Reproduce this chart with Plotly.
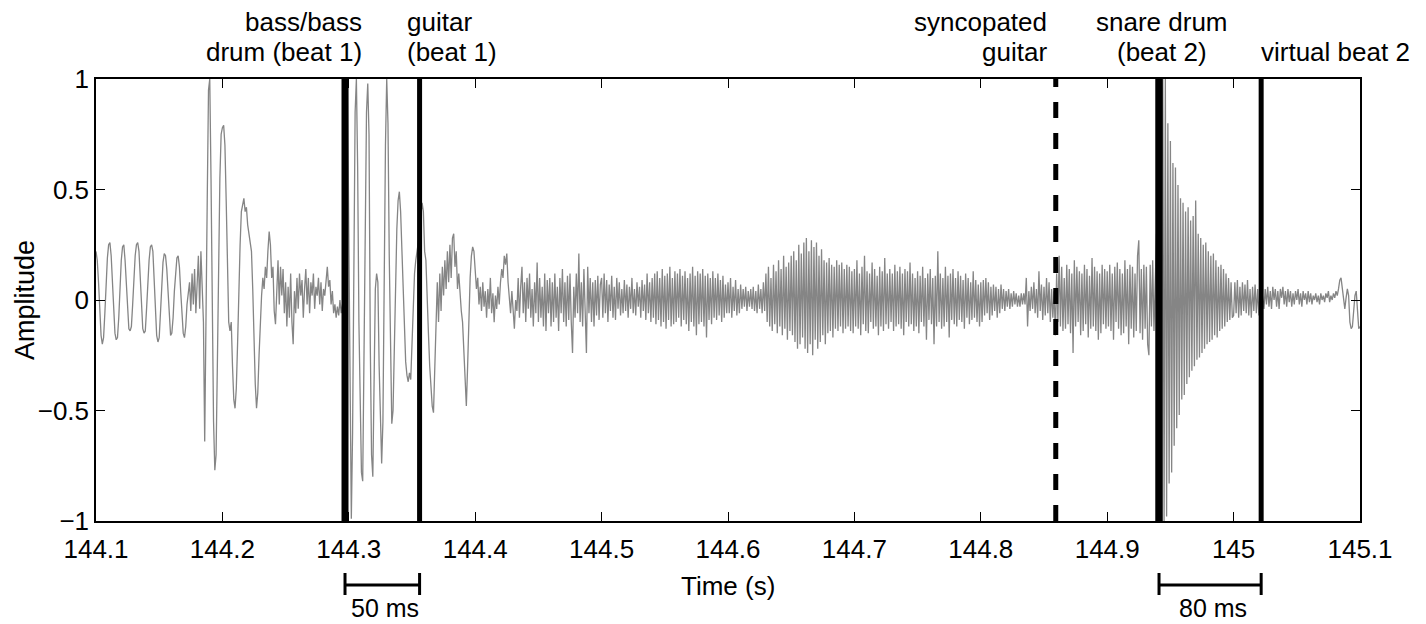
import plotly.graph_objects as go

# ---- waveform amplitude, 1 ms steps, one list per 0.1 s ----
amp_144_1 = [0.22, 0.18, 0.08, -0.05, -0.16, -0.20, -0.17, -0.06, 0.08, 0.19,
             0.25, 0.26, 0.20, 0.08, -0.06, -0.15, -0.18, -0.17, -0.08, 0.06,
             0.18, 0.24, 0.25, 0.18, 0.06, -0.06, -0.13, -0.14, -0.12, -0.02,
             0.10, 0.20, 0.25, 0.26, 0.22, 0.10, -0.04, -0.13, -0.15, -0.14,
             -0.04, 0.08, 0.18, 0.24, 0.25, 0.22, 0.10, -0.05, -0.16, -0.19,
             -0.17, -0.06, 0.08, 0.17, 0.21, 0.20, 0.14, 0.02, -0.10, -0.16,
             -0.15, -0.08, 0.04, 0.14, 0.19, 0.20, 0.15, 0.04, -0.08, -0.15,
             -0.17, -0.12, -0.02, 0.04, 0.08, -0.05, 0.12, -0.02, 0.14, -0.06,
             0.10, 0.20, -0.04, 0.22, 0.06, -0.10, -0.64, -0.20, 0.45, 0.95,
             1.0, 0.55, -0.10, -0.55, -0.77, -0.70, -0.30, 0.15, 0.55, 0.75]
amp_144_2 = [0.78, 0.79, 0.70, 0.45, 0.15, -0.10, -0.14, -0.10, -0.30, -0.45,
             -0.49, -0.40, -0.20, 0.05, 0.25, 0.40, 0.44, 0.46, 0.40, 0.42,
             0.34, 0.30, 0.28, 0.22, 0.05, -0.20, -0.38, -0.49, -0.42, -0.25,
             -0.10, 0.02, 0.10, 0.05, 0.15, 0.10, 0.22, 0.31, 0.25, 0.10,
             0.15, -0.05, -0.11, 0.05, 0.18, -0.02, 0.15, 0.02, 0.14, -0.06,
             0.08, -0.12, 0.06, -0.08, 0.12, -0.10, -0.20, 0.04, -0.06, 0.10,
             -0.04, 0.12, 0.02, 0.09, -0.08, 0.05, 0.14, -0.02, 0.10, -0.06,
             0.08, 0.02, 0.12, -0.04, 0.06, 0.02, 0.10, -0.02, 0.08, -0.05,
             0.05, 0.02, 0.10, 0.15, 0.06, 0.09, -0.02, 0.04, -0.06, -0.02,
             -0.08, -0.03, -0.07, 0.00, -0.06, -0.02, -0.05, 0.30, 0.50, 0.98]
amp_144_3 = [0.30, -0.60, -0.99, -0.60, 0.20, 0.85, 1.0, 0.60, -0.10, -0.55,
             -0.78, -0.82, -0.30, 0.40, 0.85, 0.98, 0.75, -0.20, -0.70, -0.80,
             -0.40, 0.05, 0.12, 0.08, -0.30, -0.60, -0.74, -0.55, 0.10, 0.70,
             1.0, 0.80, 0.20, -0.30, -0.56, -0.50, -0.20, 0.10, 0.32, 0.45,
             0.49, 0.40, 0.22, 0.02, -0.15, -0.28, -0.34, -0.37, -0.33, -0.36,
             -0.20, 0.00, 0.12, 0.18, 0.22, 0.24, 0.30, 0.38, 0.44, 0.40,
             0.22, 0.18, 0.05, -0.15, -0.30, -0.42, -0.48, -0.51, -0.30, -0.05,
             0.08, -0.10, 0.12, -0.05, 0.15, 0.02, 0.18, 0.05, 0.22, 0.08,
             0.25, 0.10, 0.28, 0.30, 0.15, 0.22, 0.05, 0.12, 0.02, -0.05,
             -0.10, -0.25, -0.40, -0.48, -0.30, -0.05, 0.10, 0.20, 0.24, 0.22]
amp_144_4 = [0.15, 0.05, 0.10, -0.02, 0.06, -0.05, 0.08, -0.03, 0.04, -0.08,
             0.05, -0.04, 0.10, -0.06, 0.03, -0.10, 0.02, -0.04, 0.06, -0.02,
             0.08, 0.14, 0.10, 0.20, 0.16, 0.21, 0.08, 0.02, -0.06, 0.04,
             -0.08, -0.13, 0.00, -0.05, 0.10, -0.08, 0.06, 0.15, -0.06, 0.08,
             -0.10, 0.10, -0.04, 0.12, -0.08, 0.05, -0.12, 0.08, -0.06, 0.17,
             -0.10, 0.10, -0.08, 0.06, -0.12, 0.12, -0.14, 0.09, -0.06, 0.10,
             -0.12, 0.08, -0.10, 0.12, -0.08, 0.06, -0.14, 0.10, -0.06, 0.14,
             -0.10, 0.08, -0.12, 0.11, -0.09, 0.12, -0.10, -0.24, 0.06, -0.08,
             0.12, -0.06, 0.21, -0.10, 0.08, -0.12, 0.14, -0.08, -0.24, 0.15,
             -0.06, 0.10, -0.10, 0.08, -0.12, 0.09, -0.07, 0.11, -0.09, 0.07]
amp_144_5 = [0.10, -0.08, 0.12, -0.06, 0.09, -0.10, 0.07, -0.05, 0.11, -0.08,
             0.06, -0.09, 0.10, -0.04, 0.08, -0.07, 0.05, -0.06, 0.09, -0.05,
             0.07, -0.08, 0.06, -0.04, 0.10, -0.06, 0.05, -0.07, 0.08, -0.03,
             0.06, -0.08, 0.09, -0.05, 0.07, -0.09, 0.12, -0.06, 0.08, -0.10,
             0.10, -0.08, 0.12, -0.11, 0.13, -0.09, 0.10, -0.12, 0.14, -0.10,
             0.11, -0.13, 0.12, -0.09, 0.15, -0.12, 0.10, -0.11, 0.13, -0.10,
             0.12, -0.08, 0.14, -0.12, 0.11, -0.09, 0.13, -0.11, 0.10, -0.14,
             0.12, -0.10, 0.15, -0.12, 0.11, -0.16, 0.13, -0.11, 0.12, -0.10,
             0.14, -0.12, 0.11, -0.17, 0.12, -0.09, 0.10, -0.11, 0.13, -0.08,
             0.10, -0.09, 0.12, -0.07, 0.09, -0.10, 0.11, -0.08, 0.07, -0.06]
amp_144_6 = [0.08, -0.06, 0.10, -0.08, 0.06, -0.05, 0.09, -0.07, 0.05, -0.06,
             0.07, -0.04, 0.05, -0.03, 0.06, -0.05, 0.04, -0.03, 0.05, -0.04,
             0.06, -0.05, 0.04, -0.06, 0.07, -0.04, 0.05, -0.06, 0.08, -0.05,
             0.12, -0.10, 0.15, -0.12, 0.10, -0.14, 0.16, -0.11, 0.13, -0.15,
             0.18, -0.12, 0.14, -0.16, 0.20, -0.13, 0.15, -0.18, 0.17, -0.14,
             0.20, -0.16, 0.22, -0.19, 0.18, -0.22, 0.25, -0.20, 0.21, -0.17,
             0.26, -0.22, 0.28, -0.24, 0.22, -0.20, 0.27, -0.25, 0.24, -0.18,
             0.26, -0.22, 0.20, -0.19, 0.23, -0.16, 0.18, -0.20, 0.17, -0.15,
             0.19, -0.14, 0.16, -0.17, 0.15, -0.13, 0.18, -0.14, 0.16, -0.12,
             0.17, -0.15, 0.14, -0.13, 0.16, -0.12, 0.15, -0.14, 0.13, -0.15]
amp_144_7 = [0.14, -0.12, 0.18, -0.13, 0.12, -0.16, 0.15, -0.11, 0.20, -0.14,
             0.13, -0.15, 0.12, -0.10, 0.17, -0.13, 0.14, -0.12, 0.11, -0.16,
             0.15, -0.12, 0.13, -0.14, 0.19, -0.11, 0.12, -0.13, 0.14, -0.10,
             0.12, -0.14, 0.16, -0.12, 0.13, -0.11, 0.15, -0.13, 0.12, -0.16,
             0.14, -0.10, 0.13, -0.12, 0.17, -0.11, 0.12, -0.14, 0.10, -0.12,
             0.13, -0.15, 0.11, -0.10, 0.15, -0.12, 0.10, -0.18, 0.12, -0.09,
             0.14, -0.11, 0.10, -0.20, 0.11, -0.12, 0.22, -0.10, 0.12, -0.13,
             0.10, -0.12, 0.15, -0.10, 0.11, -0.17, 0.12, -0.09, 0.14, -0.11,
             0.10, -0.12, 0.13, -0.09, 0.11, -0.10, 0.09, -0.13, 0.12, -0.08,
             0.10, -0.11, 0.08, -0.09, 0.13, -0.08, 0.09, -0.10, 0.07, -0.12]
amp_144_8 = [0.08, -0.10, 0.09, -0.07, 0.10, -0.06, 0.08, -0.09, 0.06, -0.07,
             0.07, -0.05, 0.06, -0.08, 0.05, -0.06, 0.07, -0.04, 0.05, -0.05,
             0.04, -0.03, 0.05, -0.04, 0.03, -0.03, 0.04, -0.02, 0.03, -0.03,
             0.02, -0.03, 0.03, -0.02, 0.03, -0.02, 0.10, -0.12, 0.04, -0.05,
             0.06, -0.04, 0.08, -0.06, 0.05, -0.08, 0.13, -0.05, 0.07, -0.09,
             0.06, -0.07, 0.10, -0.06, 0.08, -0.10, 0.05, -0.08, 0.04, -0.16,
             0.12, -0.10, 0.20, -0.12, 0.15, -0.14, 0.10, -0.13, 0.16, -0.11,
             0.14, -0.15, 0.12, -0.24, 0.18, -0.12, 0.15, -0.10, 0.13, -0.16,
             0.12, -0.14, 0.16, -0.11, 0.14, -0.17, 0.11, -0.13, 0.19, -0.12,
             0.15, -0.14, 0.13, -0.18, 0.12, -0.15, 0.16, -0.11, 0.14, -0.13]
amp_144_9 = [0.13, -0.12, 0.16, -0.14, 0.12, -0.18, 0.15, -0.10, 0.17, -0.13,
             0.14, -0.16, 0.12, -0.15, 0.18, -0.12, 0.14, -0.20, 0.16, -0.13,
             0.15, -0.17, 0.12, -0.14, 0.20, 0.27, -0.15, 0.14, -0.18, 0.16,
             -0.13, 0.15, -0.20, -0.25, 0.16, -0.12, 0.18, -0.14, 0.10, 0.30,
             -0.50, 0.70, -0.80, 0.60, 1.0, -1.0, 1.0, -0.98, 0.80, -0.83,
             0.72, -0.78, 0.62, -0.66, 0.60, -0.58, 0.52, -0.52, 0.46, -0.45,
             0.44, -0.43, 0.40, -0.38, 0.42, -0.35, 0.36, -0.32, 0.38, -0.30,
             0.45, -0.27, 0.30, -0.26, 0.28, -0.24, 0.25, -0.22, 0.26, -0.20,
             0.22, -0.19, 0.20, -0.18, 0.21, -0.16, 0.18, -0.17, 0.15, -0.14,
             0.16, -0.13, 0.14, -0.12, 0.12, -0.10, 0.10, -0.09, 0.08, -0.08]
amp_145_0 = [-0.07, 0.08, -0.06, 0.09, -0.08, 0.06, -0.07, 0.08, -0.05, 0.07,
             -0.06, 0.09, -0.07, 0.05, -0.08, 0.06, -0.05, 0.07, -0.06, 0.05,
             -0.07, 0.04, 0.06, 0.02, -0.04, 0.05, -0.02, 0.06, -0.03, 0.04,
             -0.04, 0.06, 0.00, 0.05, -0.03, 0.04, -0.04, 0.05, 0.01, 0.06,
             -0.02, 0.04, -0.03, 0.05, -0.01, 0.04, -0.03, 0.03, -0.02, 0.04,
             0.00, 0.05, -0.02, 0.03, -0.03, 0.04, 0.00, 0.03, -0.02, 0.04,
             -0.01, 0.03, -0.02, 0.02, 0.00, 0.03, -0.01, 0.02, -0.02, 0.03,
             0.00, 0.02, -0.01, 0.03, 0.01, 0.04, -0.01, 0.02, 0.00, 0.03,
             0.01, 0.04, 0.02, 0.05, 0.09, 0.10, 0.06, 0.00, -0.04, 0.01,
             0.05, 0.02, -0.10, -0.13, -0.12, -0.05, 0.02, 0.04, -0.08, -0.13,
             -0.12]
block_starts = [144.1, 144.2, 144.3, 144.4, 144.5, 144.6, 144.7, 144.8, 144.9, 145.0]
sample_step = 0.001

# ---- event markers (s) ----
marker_times = [144.297, 144.356, 144.8593, 144.941, 145.0218]
marker_names = ["bass/bass drum (beat 1)", "guitar (beat 1)", "syncopated guitar",
                "snare drum (beat 2)", "virtual beat 2"]
scale_bars = [("50 ms", 144.297, 144.356), ("80 ms", 144.941, 145.0218)]

x_ticks = [144.1, 144.2, 144.3, 144.4, 144.5, 144.6, 144.7, 144.8, 144.9, 145.0, 145.1]
x_ticktext = ["144.1", "144.2", "144.3", "144.4", "144.5", "144.6", "144.7", "144.8",
              "144.9", "145", "145.1"]
y_ticks = [-1, -0.5, 0, 0.5, 1]
y_ticktext = ["\u22121", "\u22120.5", "0", "0.5", "1"]

blocks = [amp_144_1, amp_144_2, amp_144_3, amp_144_4, amp_144_5,
          amp_144_6, amp_144_7, amp_144_8, amp_144_9, amp_145_0]
t_all, a_all = [], []
for start, blk in zip(block_starts, blocks):
    for i, v in enumerate(blk):
        t_all.append(round(start + i * sample_step, 4))
        a_all.append(v)

FONT = "Liberation Sans, Arial, Helvetica, sans-serif"
FS = 26
fig = go.Figure()
fig.add_trace(go.Scatter(x=t_all, y=a_all, mode="lines",
                         line=dict(color="#858585", width=1.3),
                         hoverinfo="skip", showlegend=False))

widths = [7, 5, 5, 7.5, 5]
dashes = ["solid", "solid", "16px,15px", "solid", "solid"]
shapes = []
for t, w, d in zip(marker_times, widths, dashes):
    shapes.append(dict(type="line", xref="x", yref="paper", x0=t, x1=t, y0=0, y1=1,
                       line=dict(color="black", width=w, dash=d), layer="above"))

annotations = []
H = 442.0
def py(px):
    return (521 - px) / H

for label, a, b in scale_bars:
    yb = py(585)
    shapes.append(dict(type="line", xref="x", yref="paper", x0=a, x1=b, y0=yb, y1=yb,
                       line=dict(color="black", width=3)))
    for xx in (a, b):
        shapes.append(dict(type="line", xref="x", yref="paper", x0=xx, x1=xx,
                           y0=py(573), y1=py(595), line=dict(color="black", width=3)))
    annotations.append(dict(x=(a + b) / 2, y=py(608), xref="x", yref="paper",
                            text=label, showarrow=False, xanchor="center", yanchor="middle",
                            xshift=3, font=dict(size=FS - 1, family=FONT, color="black")))

# top labels: (line1, line2, marker index, anchor, x shift in px)
top_labels = [("bass/bass", "drum (beat 1)", 0, "right", 19),
              ("guitar", "(beat 1)", 1, "left", -15),
              ("syncopated", "guitar", 2, "right", -7),
              ("snare drum", "(beat 2)", 3, "center", 3),
              ("", "virtual beat 2", 4, "left", -2)]
for l1, l2, idx, anc, sh in top_labels:
    for txt, ypx in ((l1, 22), (l2, 52)):
        if not txt:
            continue
        annotations.append(dict(x=marker_times[idx], y=py(ypx), xref="x", yref="paper",
                                text=txt, showarrow=False, xanchor=anc, yanchor="middle",
                                xshift=sh, font=dict(size=FS, family=FONT, color="black")))

annotations.append(dict(x=0.5, y=py(586), xref="paper", yref="paper", text="Time (s)",
                        showarrow=False, xanchor="center", yanchor="middle",
                        font=dict(size=FS, family=FONT, color="black")))
annotations.append(dict(x=-(96 - 25) / 1264.0, y=0.5, xref="paper", yref="paper",
                        text="Amplitude", textangle=-90, showarrow=False,
                        xanchor="center", yanchor="middle",
                        font=dict(size=27, family=FONT, color="black")))

axis_common = dict(showline=True, linecolor="black", linewidth=1.5, mirror="ticks",
                   ticks="inside", ticklen=9, tickwidth=1, tickcolor="black",
                   showgrid=False, zeroline=False,
                   tickfont=dict(size=FS, family=FONT, color="black"))

fig.update_layout(
    width=1426, height=624,
    margin=dict(l=96, r=66, t=79, b=103),
    paper_bgcolor="white", plot_bgcolor="white",
    xaxis=dict(range=[144.1, 145.1], tickvals=x_ticks, ticktext=x_ticktext,
               ticklabelstandoff=4, **axis_common),
    yaxis=dict(range=[-1, 1], tickvals=y_ticks, ticktext=y_ticktext, **axis_common),
    shapes=shapes, annotations=annotations, showlegend=False,
)
fig.write_html("out.html", config={"displayModeBar": False},
               post_script="document.body.style.margin='0px';document.body.style.overflow='hidden';")
